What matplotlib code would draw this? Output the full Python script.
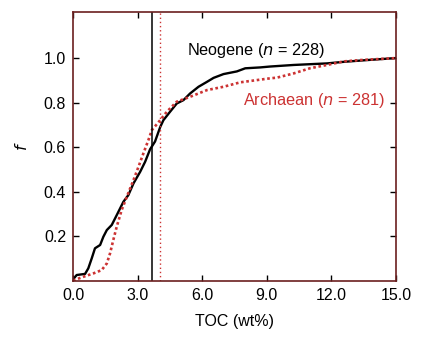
import matplotlib
matplotlib.use("Agg")
import matplotlib.pyplot as plt

plt.rcParams['font.family'] = ['Liberation Sans', 'DejaVu Sans']

# cumulative distributions (TOC wt%, fraction)
neogene_toc = [0.0, 0.17, 0.56, 0.71, 0.87, 1.02, 1.26, 1.41, 1.57, 1.80, 2.03, 2.34, 2.57,
               2.81, 3.12, 3.35, 3.58, 3.81, 4.05, 4.20, 4.51, 4.82, 5.13, 5.44, 5.83, 6.22,
               6.53, 6.99, 7.61, 8.00, 8.70, 9.16, 10.25, 11.80, 12.57, 13.66, 15.0]
neogene_f = [0.005, 0.025, 0.03, 0.055, 0.10, 0.145, 0.16, 0.197, 0.227, 0.25, 0.294, 0.354, 0.384,
             0.437, 0.489, 0.534, 0.59, 0.625, 0.69, 0.721, 0.759, 0.796, 0.811, 0.841, 0.871, 0.893,
             0.911, 0.928, 0.94, 0.954, 0.958, 0.962, 0.969, 0.976, 0.983, 0.991, 1.0]

archaean_toc = [0.0, 0.48, 0.94, 1.33, 1.57, 1.72, 1.87, 2.03, 2.26, 2.50, 2.81, 3.04, 3.27,
                3.50, 3.66, 4.05, 4.36, 4.82, 5.44, 6.22, 6.99, 7.77, 8.54, 9.16, 9.47, 10.25,
                11.0, 11.8, 12.57, 13.35, 15.0]
archaean_f = [0.0, 0.017, 0.032, 0.047, 0.077, 0.122, 0.182, 0.242, 0.317, 0.377, 0.452, 0.511, 0.572,
              0.631, 0.676, 0.721, 0.759, 0.804, 0.826, 0.856, 0.871, 0.891, 0.901, 0.909, 0.912, 0.931,
              0.954, 0.969, 0.985, 0.991, 1.0]

neogene_median = 3.66
archaean_median = 4.02

red = '#cc3333'
spine = '#6b1f1f'

fig = plt.figure(figsize=(4.26, 3.43), dpi=100)
ax = fig.add_axes([0.1714, 0.182, 0.758, 0.783])

ax.plot(neogene_toc, neogene_f, color='black', lw=1.7)
ax.plot(archaean_toc, archaean_f, color=red, lw=1.9, ls=(0, (1, 1)))
ax.axvline(neogene_median, color='black', lw=1.1)
ax.axvline(archaean_median, color=red, lw=1.0, ls=(0, (1, 2)))

ax.text(5.3, 1.036, 'Neogene ($\\mathit{n}$ = 228)', fontsize=11.7, color='black', va='center')
ax.text(7.9, 0.811, 'Archaean ($\\mathit{n}$ = 281)', fontsize=11.7, color=red, va='center')

ax.set_xlim(0, 15)
ax.set_ylim(0, 1.207)
ax.set_xticks([0, 3, 6, 9, 12, 15])
ax.set_xticklabels(['0.0', '3.0', '6.0', '9.0', '12.0', '15.0'])
ax.set_yticks([0.2, 0.4, 0.6, 0.8, 1.0])
ax.set_yticklabels(['0.2', '0.4', '0.6', '0.8', '1.0'])
ax.tick_params(direction='in', length=4, width=1, top=True, right=True, labelsize=11.5, pad=5)
for s in ax.spines.values():
    s.set_color(spine)
    s.set_linewidth(1.2)

ax.set_xlabel('TOC (wt%)', fontsize=11.5, labelpad=8)
ax.set_ylabel('$\\mathit{f}$', fontsize=11.5, labelpad=10)

plt.savefig('out.png', dpi=100)
